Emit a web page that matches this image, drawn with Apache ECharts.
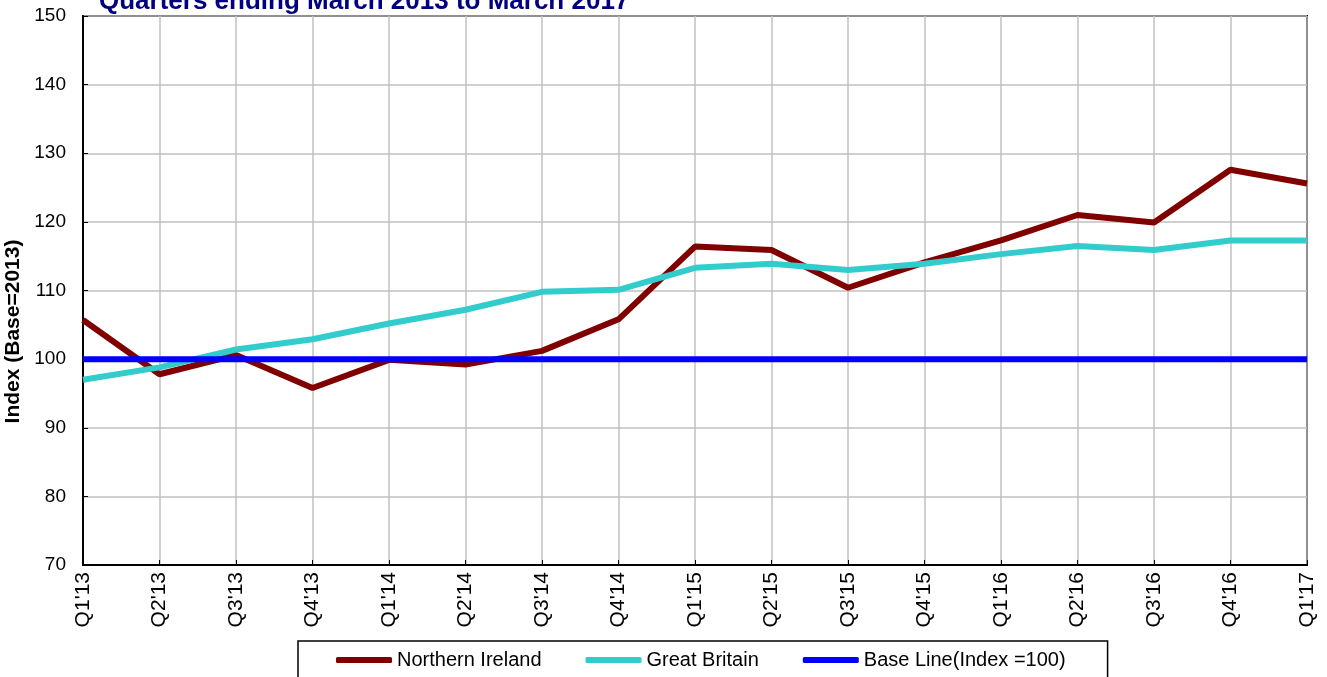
<!DOCTYPE html>
<html>
<head>
<meta charset="utf-8">
<script src="https://cdn.jsdelivr.net/npm/echarts@6/dist/echarts.min.js"></script>
<style>html,body{margin:0;padding:0;background:#fff;}#c{width:1327px;height:677px;}</style>
</head>
<body>
<div id="c"></div>
<script>
const categories = ["Q1'13","Q2'13","Q3'13","Q4'13","Q1'14","Q2'14","Q3'14","Q4'14","Q1'15","Q2'15","Q3'15","Q4'15","Q1'16","Q2'16","Q3'16","Q4'16","Q1'17"];
const northernIreland = [105.7, 97.8, 100.6, 95.8, 99.9, 99.2, 101.2, 105.8, 116.4, 115.9, 110.4, 114.1, 117.3, 121.0, 119.9, 127.6, 125.6];
const greatBritain = [97.0, 98.8, 101.4, 102.9, 105.2, 107.2, 109.8, 110.1, 113.3, 113.9, 113.0, 113.9, 115.3, 116.5, 115.9, 117.3, 117.3];
const baseLine = [100,100,100,100,100,100,100,100,100,100,100,100,100,100,100,100,100];
const yTicks = {min: 70, max: 150, interval: 10};

const FONT = "Arial, 'Liberation Sans', sans-serif";
const chart = echarts.init(document.getElementById('c'));
chart.setOption({
  animation: false,
  title: {
    text: 'Quarters ending March 2013 to March 2017',
    left: 94, top: -16,
    textStyle: {color: '#000080', fontWeight: 'bold', fontSize: 26, fontFamily: FONT}
  },
  grid: {left: 83, right: 20, top: 16, bottom: 112, outerBoundsMode: 'none', containLabel: false,
         show: true, borderColor: '#000', borderWidth: 2, backgroundColor: 'transparent'},
  legend: {
    left: 298, top: 641,
    borderColor: '#000', borderWidth: 1.5,
    padding: [9, 42, 22, 38],
    itemGap: 44, itemWidth: 56, itemHeight: 6,
    icon: 'roundRect',
    textStyle: {fontSize: 20, color: '#000', fontFamily: FONT},
    data: ['Northern Ireland', 'Great Britain', 'Base Line(Index =100)']
  },
  xAxis: {
    type: 'category', data: categories, boundaryGap: false,
    axisLine: {lineStyle: {color: '#000', width: 2}},
    axisTick: {inside: true, length: 5, lineStyle: {color: '#000'}},
    axisLabel: {rotate: 90, fontSize: 21, color: '#000', margin: 7, fontFamily: FONT},
    splitLine: {show: true, lineStyle: {color: '#c0c0c0', width: 1.5}}
  },
  yAxis: {
    type: 'value', min: yTicks.min, max: yTicks.max, interval: yTicks.interval,
    name: 'Index (Base=2013)', nameLocation: 'middle', nameGap: 50,
    nameTextStyle: {fontSize: 21, fontWeight: 'bold', color: '#000', fontFamily: FONT, padding: [0, 82, 0, 0]},
    axisLine: {show: true, lineStyle: {color: '#000', width: 2}},
    axisTick: {show: true, inside: true, length: 5, lineStyle: {color: '#000'}},
    axisLabel: {fontSize: 19, color: '#000', margin: 17, fontFamily: FONT},
    splitLine: {show: true, lineStyle: {color: '#c0c0c0', width: 1.5}}
  },
  series: [
    {name: 'Northern Ireland', type: 'line', data: northernIreland, symbol: 'none', z: 3,
     itemStyle: {color: '#800000'}, lineStyle: {color: '#800000', width: 6}},
    {name: 'Great Britain', type: 'line', data: greatBritain, symbol: 'none', z: 4,
     itemStyle: {color: '#33CCCC'}, lineStyle: {color: '#33CCCC', width: 6}},
    {name: 'Base Line(Index =100)', type: 'line', data: baseLine, symbol: 'none', z: 5,
     itemStyle: {color: '#0000FF'}, lineStyle: {color: '#0000FF', width: 6}}
  ]
});
</script>
</body>
</html>
